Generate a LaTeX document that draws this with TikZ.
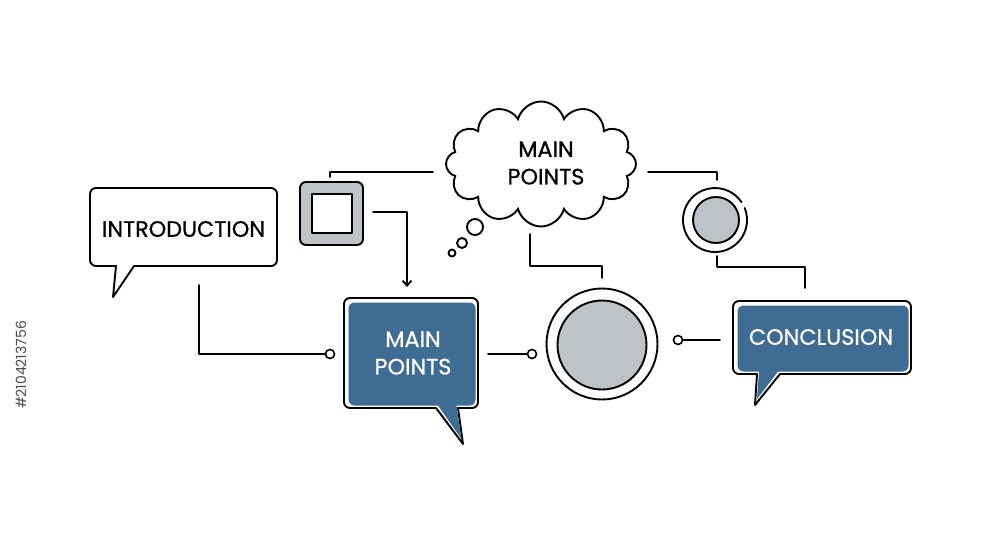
\documentclass[tikz,border=0pt]{standalone}
\usepackage{fontspec}
\setmainfont{Poppins}
\newfontfamily\lblfont{Poppins}[FakeBold=0.8]
\usetikzlibrary{shapes.symbols,arrows.meta}
\definecolor{bblue}{RGB}{62,108,147}
\definecolor{cgray}{RGB}{189,195,199}
\newcommand{\bubbleshape}[9]{%
  \path[#1] (#6,#5) [rounded corners=6] -- (#2,#5) -- (#2,#3) -- (#4,#3) -- (#4,#5) [sharp corners] -- (#7,#5) -- (#8,#9) -- cycle;}
\begin{document}
\begin{tikzpicture}[x=1pt,y=-1pt,
  ln/.style={line width=1.9pt,line cap=round,line join=round},
  lbl/.style={font=\lblfont\fontsize{22.3}{27.5}\selectfont,align=center,inner sep=0pt},
  dot/.style={circle,draw,line width=1.6pt,fill=white,minimum size=9pt,inner sep=0pt}]
\useasboundingbox (0,0) rectangle (1000,545);
\fill[white] (0,0) rectangle (1000,545);
% watermark id
\node[rotate=90,text=black!70,font=\fontsize{14}{16}\selectfont] (wm) at (21,365) {\#2104213756};

% INTRODUCTION bubble
\bubbleshape{ln,draw,fill=white}{90}{188}{277}{266}{116}{134}{113}{297}
\node[lbl] (intro) at (183.5,229) {INTRODUCTION};

% square icon
\draw[ln,fill=cgray,rounded corners=6] (300,182) rectangle (363,245);
\draw[ln,fill=white] (312,194) rectangle (352,233);
\coordinate (sq) at (331,213);

% cloud
\node[cloud,cloud puffs=12,aspect=1.5,draw,line width=1.9pt,fill=white,
  minimum width=190pt,minimum height=125pt,inner sep=0pt] (cloud) at (541,164) {};
\node[lbl,text=black] (cloudtxt) at (546,163) {MAIN\\POINTS};
\draw[ln] (475,227) circle (8);
\draw[ln] (462,243) circle (5);
\draw[ln] (452,253) circle (3.5);

% MAIN POINTS blue bubble
\bubbleshape{ln,draw,fill=white}{344}{298}{478}{408}{436}{458}{463}{444}
\bubbleshape{fill=bblue}{348.5}{302.5}{475.5}{405.5}{438}{456.5}{461.5}{439}
\node[lbl,text=white] (mp) at (413,353) {MAIN\\POINTS};

% CONCLUSION bubble
\bubbleshape{ln,draw,fill=white}{733}{301}{911}{374}{757}{780}{755}{405}
\bubbleshape{fill=bblue}{737.5}{305.5}{908.5}{371.5}{759}{778}{757}{399}
\node[lbl,text=white] (conc) at (821,337) {CONCLUSION};

% big circle
\node[circle,draw,line width=1.9pt,fill=white,minimum size=111pt,inner sep=0pt] (big) at (602,344) {};
\node[circle,draw,line width=1.9pt,fill=cgray,minimum size=89pt,inner sep=0pt] (bigin) at (602,345) {};

% small ring circle
\draw[ln] (715,220) ++(-22:32) arc[start angle=-22,end angle=326,radius=32];
\node[circle,draw,line width=1.9pt,fill=cgray,minimum size=46pt,inner sep=0pt] (ring) at (716,220) {};

% connectors
\coordinate (c1a) at (330,177);
\coordinate (c1b) at (433,172);
\draw[ln] (c1a) |- (c1b);
\coordinate (c2a) at (648,172);
\coordinate (c2b) at (717,180);
\draw[ln] (c2a) -| (c2b);
\coordinate (c3a) at (530,234);
\coordinate (c3b) at (602,278);
\draw[ln] (c3a) |- (530,266) -| (c3b);
\coordinate (c4a) at (717,256);
\coordinate (c4b) at (805,288);
\draw[ln] (c4a) |- (760,267) -| (c4b);
\coordinate (arrS) at (373,212);
\coordinate (arrE) at (407,287);
\draw[ln,-{Straight Barb[length=5pt,width=9pt]}] (arrS) -| (arrE);
\coordinate (c5a) at (199,285);
\node[dot] (d1) at (330,354) {};
\draw[ln] (c5a) |- (d1);
\coordinate (c6a) at (488,354);
\node[dot] (d2) at (532,354) {};
\draw[ln] (c6a) -- (d2);
\node[dot] (d3) at (678,340) {};
\coordinate (c7b) at (720,340);
\draw[ln] (d3) -- (c7b);
\end{tikzpicture}
\end{document}
